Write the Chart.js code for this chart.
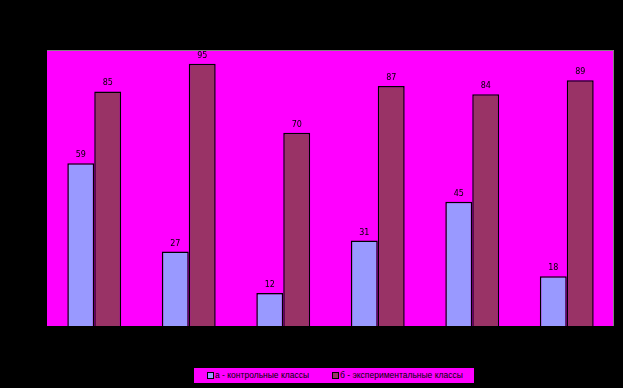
<!DOCTYPE html>
<html>
<head>
<meta charset="utf-8">
<script src="https://cdn.jsdelivr.net/npm/chart.js@4"></script>
<style>
  body { margin: 0; background: #000; }
  #wrap { position: relative; width: 623px; height: 388px; }
  #legend {
    position: absolute; left: 194px; top: 368px; width: 280px; height: 15px;
    background: #ff00ff; font: 8.5px "Liberation Sans", Arial, sans-serif; color: #000;
  }
  #legend .box { position: absolute; top: 4px; width: 5px; height: 5px; border: 1px solid #000; }
  #legend .txt { position: absolute; top: 2px; white-space: nowrap; line-height: 11px; }
</style>
</head>
<body>
<div id="wrap">
  <canvas id="myChart" width="623" height="388"></canvas>
  <div id="legend"></div>
</div>
<script>
const labels = ["1", "2", "3", "4", "5", "6"];
const seriesNames = ["а - контрольные классы", "б - экспериментальные классы"];
const controlValues = [59, 27, 12, 31, 45, 18];
const expValues = [85, 95, 70, 87, 84, 89];
const colors = ["#9999ff", "#993366"];

// plot area background + border
const plotBg = {
  id: 'plotBg',
  beforeDraw(chart) {
    const c = chart.ctx, a = chart.chartArea;
    c.save();
    c.fillStyle = '#000';
    c.fillRect(0, 0, chart.width, chart.height);
    c.fillStyle = '#ff00ff';
    c.fillRect(a.left, a.top, a.right - a.left, a.bottom - a.top);
    c.strokeStyle = '#808080';
    c.lineWidth = 1;
    c.beginPath();
    c.moveTo(a.left, a.top + 0.5);
    c.lineTo(a.right - 0.5, a.top + 0.5);
    c.lineTo(a.right - 0.5, a.bottom);
    c.stroke();
    c.restore();
  }
};

const valueLabels = {
  id: 'valueLabels',
  afterDatasetsDraw(chart) {
    const c = chart.ctx;
    c.save();
    c.font = '8px "DejaVu Sans", sans-serif';
    c.fillStyle = '#000';
    c.textAlign = 'center';
    c.textBaseline = 'bottom';
    chart.data.datasets.forEach((ds, i) => {
      chart.getDatasetMeta(i).data.forEach((bar, j) => {
        c.fillText(ds.data[j], bar.x, bar.y - 4);
      });
    });
    c.restore();
  }
};

const ctx = document.getElementById('myChart').getContext('2d');
const myChart = new Chart(ctx, {
  type: 'bar',
  data: {
    labels: labels,
    datasets: [{
      label: seriesNames[0],
      data: controlValues,
      backgroundColor: colors[0],
      borderColor: '#000',
      borderWidth: 1.5
    }, {
      label: seriesNames[1],
      data: expValues,
      backgroundColor: colors[1],
      borderColor: '#000',
      borderWidth: 1.5
    }]
  },
  options: {
    responsive: false,
    animation: false,
    layout: { padding: { left: 47, right: 9, top: 50, bottom: 62 } },
    datasets: { bar: { categoryPercentage: 0.57, barPercentage: 1 } },
    plugins: { legend: { display: false }, tooltip: { enabled: false } },
    scales: {
      x: { display: false },
      y: { display: false, min: 0, max: 100 }
    }
  },
  plugins: [plotBg, valueLabels]
});

// legend positions inside the legend box
const legendX = [13, 138];
const legend = document.getElementById('legend');
seriesNames.forEach((name, i) => {
  const box = document.createElement('span');
  box.className = 'box';
  box.style.left = legendX[i] + 'px';
  box.style.background = colors[i];
  const txt = document.createElement('span');
  txt.className = 'txt';
  txt.style.left = (legendX[i] + 8) + 'px';
  txt.textContent = name;
  legend.appendChild(box);
  legend.appendChild(txt);
});
</script>
</body>
</html>
